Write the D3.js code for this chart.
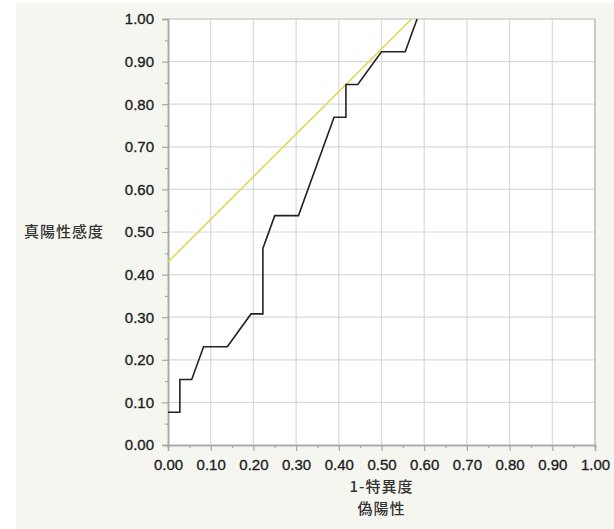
<!DOCTYPE html>
<html><head><meta charset="utf-8">
<script src="https://cdn.jsdelivr.net/npm/d3@7"></script>
<style>
html,body{margin:0;padding:0;background:#fff;}
svg{display:block;}
</style></head>
<body>
<svg id="chart" width="614" height="529"></svg>
<script>
// ROC curve points (1-specificity, sensitivity)
const fprValues = [0, 1/36, 1/36, 2/36, 3/36, 5/36, 7/36, 8/36, 8/36, 9/36, 11/36, 14/36, 15/36, 15/36, 16/36, 18/36, 20/36, 21/36];
const tprValues = [1/13, 1/13, 2/13, 2/13, 3/13, 3/13, 4/13, 4/13, 6/13, 7/13, 7/13, 10/13, 10/13, 11/13, 11/13, 12/13, 12/13, 1];
// Tangent (Youden) line, slope 1
const tangentX = [0, 0.5705];
const tangentY = [0.4295, 1.0];
const tickValues = [0, 0.1, 0.2, 0.3, 0.4, 0.5, 0.6, 0.7, 0.8, 0.9, 1.0];
const minorTicks = [0.05, 0.15, 0.25, 0.35, 0.45, 0.55, 0.65, 0.75, 0.85, 0.95];
const xTitle = ["1-特異度", "偽陽性"];
const yTitle = "真陽性感度";

const svg = d3.select("#chart");
const L = 168, R = 595, T = 19, B = 445;
const font = "'Liberation Sans', Arial, Helvetica, sans-serif";
const cjk = "'Noto Sans CJK JP', 'Noto Sans CJK SC', sans-serif";

svg.append("rect").attr("x", 16).attr("y", 3).attr("width", 598).attr("height", 526).attr("fill", "#f6f6f1");

const x = d3.scaleLinear().domain([0, 1]).range([L, R]);
const y = d3.scaleLinear().domain([0, 1]).range([B, T]);

svg.append("rect").attr("x", L).attr("y", T).attr("width", R - L).attr("height", B - T).attr("fill", "#fff");

// grid
const g = svg.append("g");
g.selectAll(".vg").data(tickValues.slice(1)).join("line")
  .attr("x1", d => x(d)).attr("x2", d => x(d)).attr("y1", T).attr("y2", B)
  .attr("stroke", "#d9d9d9").attr("stroke-width", 1.2);
g.selectAll(".hg").data(tickValues.slice(1)).join("line")
  .attr("y1", d => y(d)).attr("y2", d => y(d)).attr("x1", L).attr("x2", R)
  .attr("stroke", "#d9d9d9").attr("stroke-width", 1.2);
// frame right/top
svg.append("line").attr("x1", R).attr("x2", R).attr("y1", T).attr("y2", B).attr("stroke", "#b8b8b8").attr("stroke-width", 1.2);
svg.append("line").attr("x1", L).attr("x2", R).attr("y1", T).attr("y2", T).attr("stroke", "#c8c8c8").attr("stroke-width", 1.2);

// axes
const xAxis = d3.axisBottom(x).tickValues(tickValues).tickFormat(d3.format(".2f")).tickSize(6).tickPadding(8);
const xMinor = d3.axisBottom(x).tickValues(minorTicks).tickFormat("").tickSize(3);
const yAxis = d3.axisLeft(y).tickValues(tickValues).tickFormat(d3.format(".2f")).tickSize(6).tickPadding(8);
const yMinor = d3.axisLeft(y).tickValues(minorTicks).tickFormat("").tickSize(3);

function styleAxis(sel) {
  sel.select(".domain").attr("stroke", "#a8a8a8").attr("stroke-width", 1.5);
  sel.selectAll(".tick line").attr("stroke", "#a8a8a8").attr("stroke-width", 1.2);
  sel.selectAll(".tick text").attr("fill", "#1e1e1e").attr("stroke", "#1e1e1e").attr("stroke-width", 0.35)
    .style("font-family", font).style("font-size", "15px");
}
svg.append("g").attr("transform", `translate(0,${B})`).call(xMinor).call(styleAxis);
svg.append("g").attr("transform", `translate(0,${B})`).call(xAxis).call(styleAxis);
svg.append("g").attr("transform", `translate(${L},0)`).call(yMinor).call(styleAxis);
svg.append("g").attr("transform", `translate(${L},0)`).call(yAxis).call(styleAxis);

// tangent line
const tline = d3.line().x(d => x(d[0])).y(d => y(d[1]));
svg.append("path").datum(tangentX.map((v, i) => [v, tangentY[i]]))
  .attr("d", tline).attr("fill", "none").attr("stroke", "#e2d84e").attr("stroke-width", 1.6);

// ROC curve
svg.append("path").datum(fprValues.map((v, i) => [v, tprValues[i]]))
  .attr("d", tline).attr("fill", "none").attr("stroke", "#222").attr("stroke-width", 1.6)
  .attr("stroke-linejoin", "miter");

// titles
function title(tx, ty, anchor, txt) {
  svg.append("text").attr("x", tx).attr("y", ty).attr("text-anchor", anchor)
    .style("font-family", cjk).style("font-size", "15px").style("font-weight", "500")
    .style("letter-spacing", "1px").attr("fill", "#333").text(txt);
}
title((L + R) / 2, 492, "middle", xTitle[0]);
title((L + R) / 2, 514, "middle", xTitle[1]);
title(24, 237, "start", yTitle);
</script>
</body></html>
